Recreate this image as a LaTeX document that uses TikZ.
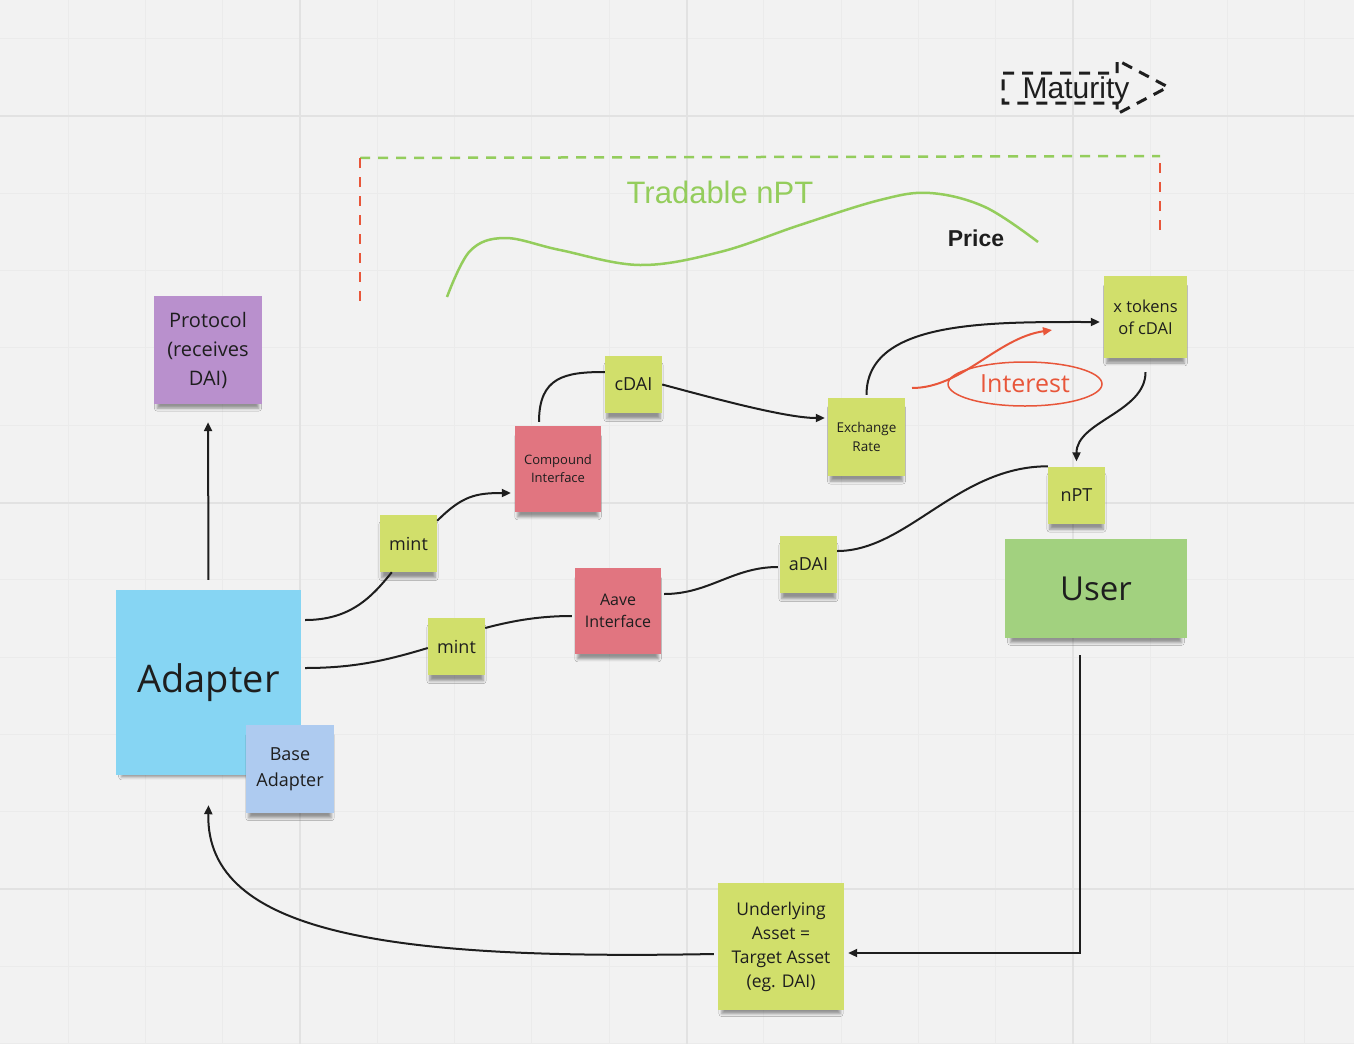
\documentclass[tikz,border=0pt]{standalone}
\usepackage{fontspec}
\setmainfont{Open Sans}
\newfontfamily\arialfont{Liberation Sans}
\usetikzlibrary{arrows.meta,shapes.geometric,shadows.blur}
\definecolor{canvas}{RGB}{242,242,242}
\definecolor{minorgray}{RGB}{235,235,235}
\definecolor{majorgray}{RGB}{226,226,226}
\definecolor{notelime}{RGB}{209,223,107}
\definecolor{notepink}{RGB}{225,117,128}
\definecolor{notepurple}{RGB}{185,144,205}
\definecolor{noteblue}{RGB}{134,213,243}
\definecolor{notesky}{RGB}{174,203,240}
\definecolor{notegreen}{RGB}{162,209,127}
\definecolor{ink}{RGB}{30,30,30}
\definecolor{accentred}{RGB}{232,86,58}
\definecolor{tradegreen}{RGB}{148,205,92}
\tikzset{
  note/.style={rectangle, align=center, inner sep=0pt, text=ink,
    blur shadow={shadow xshift=0pt, shadow yshift=-8pt, shadow opacity=40,
      shadow blur radius=3pt, shadow scale=0.94}},
  sq/.style={note, minimum width=#1, minimum height=#1},
  link/.style={line width=2pt, draw=ink},
  arr/.style={link, -{Triangle[length=9pt,width=8pt]}},
}
\begin{document}
\begin{tikzpicture}[x=1pt, y=-1pt,
  minorgrid/.style={draw=minorgray, line width=1pt},
  majorgrid/.style={draw=majorgray, line width=2pt},
  greendash/.style={draw=tradegreen, line width=2.5pt, dash pattern=on 10pt off 8pt},
  reddash/.style={draw=accentred, line width=2.5pt, dash pattern=on 10pt off 9pt},
  mature/.style={draw=ink, line width=3pt, dash pattern=on 11pt off 8pt}]
\useasboundingbox (0,0) rectangle (1354,1044);
\fill[canvas] (0,0) rectangle (1354,1044);
\foreach \k in {-3,...,13} \draw[minorgrid] ({300+\k*77.3},0) -- ({300+\k*77.3},1044);
\foreach \k in {-1,...,12} \draw[minorgrid] (0,{116+\k*77.3}) -- (1354,{116+\k*77.3});
\foreach \k in {0,5,10} \draw[majorgrid] ({300+\k*77.3},0) -- ({300+\k*77.3},1044);
\foreach \k in {0,5,10} \draw[majorgrid] (0,{116+\k*77.3}) -- (1354,{116+\k*77.3});

\draw[mature] (1003,73) -- (1117,73) -- (1117,60) -- (1168,87) -- (1117,114) -- (1117,103) -- (1003,103) -- cycle;
\node[anchor=base, text=ink, font=\arialfont\fontsize{30}{36}\selectfont] (maturity) at (1076,98) {Maturity};

\draw[greendash] (360,158) -- (1160,156);
\draw[reddash] (360,158) -- (360,305);
\draw[reddash] (1160,163) -- (1160,235);
\draw[tradegreen, line width=2.5pt] plot[smooth, tension=0.6] coordinates {(447,297) (470,251) (505,238) (560,250) (640,265) (720,252) (800,225) (880,200) (930,193) (985,207) (1038,242)};
\node[anchor=base, text=tradegreen, font=\arialfont\fontsize{31}{36}\selectfont] (tradable) at (720,203) {Tradable nPT};
\node[anchor=base, text=ink, font=\arialfont\bfseries\fontsize{23}{28}\selectfont] (price) at (976,246) {Price};

\node[sq=108pt, fill=notepurple, font=\fontsize{20}{29}\selectfont] (protocol) at (208,350) {Protocol\\(receives\\DAI)};
\node[sq=185pt, fill=noteblue, font=\fontsize{38}{44}\selectfont] (adapter) at (208.5,682.5) {Adapter};
\node[sq=88pt, fill=notesky, font=\fontsize{18}{26}\selectfont] (baseadapter) at (290,769) {Base\\Adapter};
\node[sq=57pt, fill=notelime, font=\fontsize{18}{22}\selectfont] (minttop) at (408.5,543.5) {mint};
\node[sq=86pt, fill=notepink, font=\fontsize{13}{18}\selectfont] (compound) at (558,469) {Compound\\Interface};
\node[sq=57pt, fill=notelime, font=\fontsize{18}{22}\selectfont] (cdai) at (633.5,384.5) {cDAI};
\node[sq=57pt, fill=notelime, font=\fontsize{18}{22}\selectfont] (mintbot) at (456.5,646.5) {mint};
\node[sq=86pt, fill=notepink, font=\fontsize{16}{22}\selectfont] (aave) at (618,611) {Aave\\Interface};
\node[sq=57pt, fill=notelime, font=\fontsize{18}{22}\selectfont] (adai) at (808.5,564.5) {aDAI};
\node[note, minimum width=77pt, minimum height=78pt, fill=notelime, font=\fontsize{13.5}{19}\selectfont] (exrate) at (866.5,437) {Exchange\\Rate};
\node[note, minimum width=83pt, minimum height=82pt, fill=notelime, font=\fontsize{16.5}{22}\selectfont] (xtokens) at (1145.5,317) {x tokens\\of cDAI};
\node[sq=57pt, fill=notelime, font=\fontsize{18}{22}\selectfont] (npt) at (1076.5,495) {nPT};
\node[note, minimum width=182pt, minimum height=99pt, fill=notegreen, font=\fontsize{33}{40}\selectfont] (user) at (1096,588.5) {User};
\node[note, minimum width=126pt, minimum height=127pt, fill=notelime, font=\fontsize{17.5}{24}\selectfont] (underlying) at (781,946.5) {Underlying\\Asset =\\Target Asset\\(eg. DAI)};

\node[ellipse, draw=accentred, line width=1.5pt, minimum width=154pt, minimum height=44pt, inner sep=0pt, text=accentred, font=\fontsize{25}{30}\selectfont] (interest) at (1025,384) {Interest};
\coordinate (gain) at (912,388);
\coordinate (gaintip) at (1052,330);
\draw[accentred, line width=2pt, -{Triangle[length=9pt,width=8pt]}] (gain) .. controls +(50,0) and +(-55,8) .. (gaintip);

\draw[arr, shorten <=10pt, shorten >=18pt] (adapter.north) -- (protocol.south);
\draw[link] ([xshift=4pt,yshift=62.5pt]adapter.east) .. controls +(45,0) and +(-20,25) .. ([xshift=12pt]minttop.south west);
\draw[arr] ([yshift=-6pt]minttop.north east) .. controls +(25,-25) and +(-35,0) .. ([xshift=-4pt,yshift=-24pt]compound.west);
\draw[link] ([xshift=-19pt,yshift=4pt]compound.north) .. controls +(0,-45) and +(-40,0) .. ([yshift=12.5pt]cdai.west);
\draw[arr] (cdai.east) .. controls +(45,12) and +(-40,0) .. ([xshift=-3pt,yshift=19pt]exrate.west);
\draw[arr] ([yshift=3pt]exrate.north) .. controls +(0,-75) and +(-110,0) .. ([xshift=-4pt,yshift=-5pt]xtokens.west);
\draw[arr] ([yshift=-14pt]xtokens.south) .. controls +(0,40) and +(0,-40) .. ([yshift=5pt]npt.north);
\draw[link] ([yshift=13.5pt]adai.east) .. controls +(70,0) and +(-90,0) .. (npt.north west);
\draw[link] ([xshift=4pt,yshift=14.5pt]adapter.east) .. controls +(50,0) and +(-40,12) .. ([yshift=-1.5pt]mintbot.west);
\draw[link] ([yshift=18.5pt]mintbot.east) .. controls +(30,-8) and +(-30,0) .. ([xshift=-3pt,yshift=-5pt]aave.west);
\draw[link] ([xshift=3pt,yshift=17pt]aave.east) .. controls +(45,0) and +(-45,0) .. ([xshift=-2pt,yshift=-2.5pt]adai.west);
\draw[arr] ([xshift=-16pt,yshift=-17pt]user.south) |- ([xshift=4pt,yshift=-6.5pt]underlying.east);
\draw[arr] ([xshift=-4pt,yshift=-7.5pt]underlying.west) .. controls +(-320,6) and +(-3,130) .. ([yshift=-30pt]adapter.south);
\end{tikzpicture}
\end{document}
